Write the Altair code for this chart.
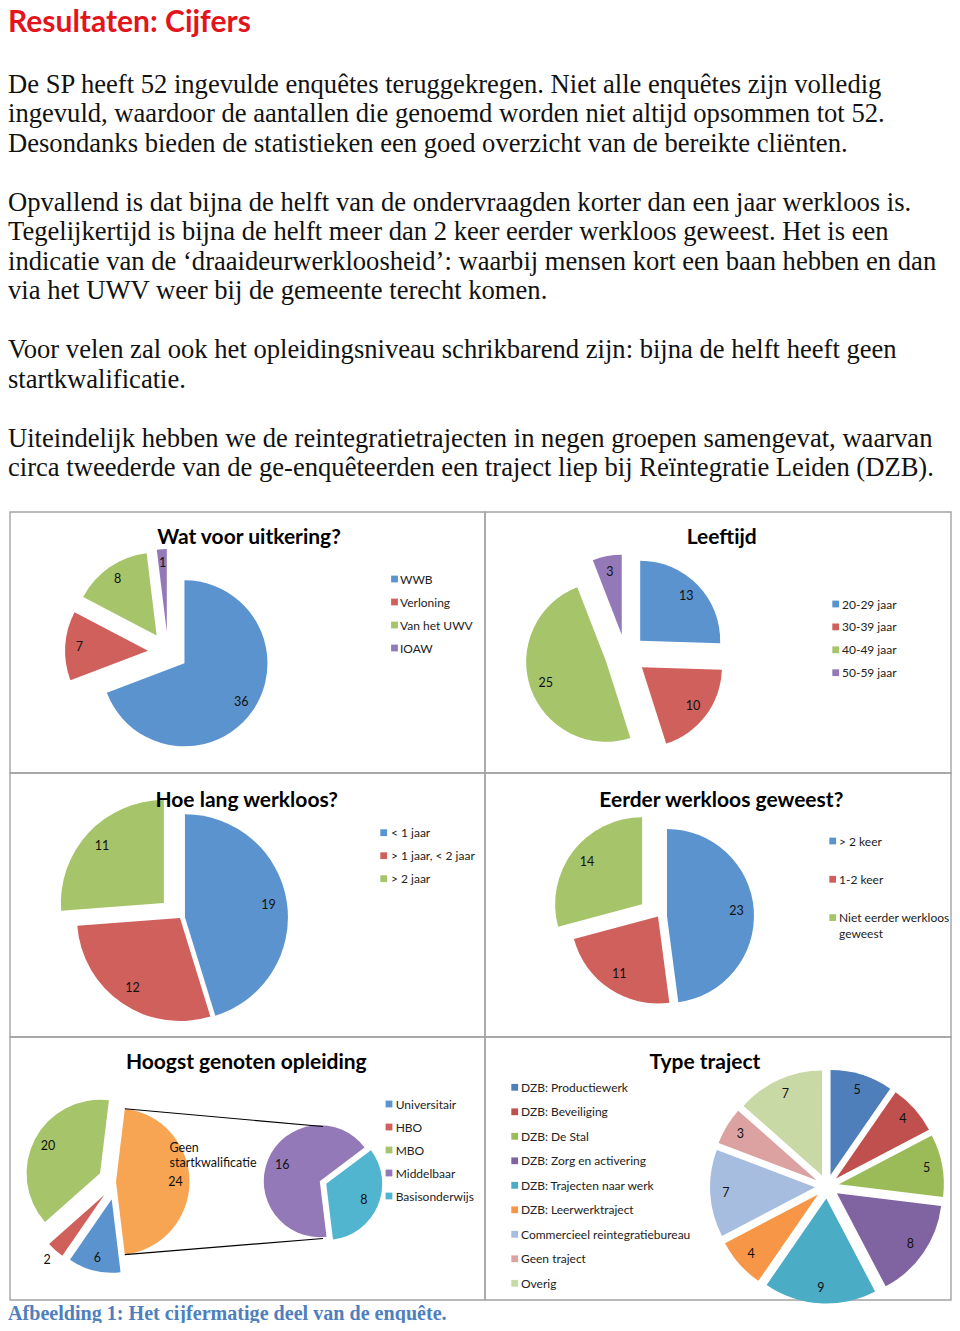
import math
import textwrap
import altair as alt
import pandas as pd

# ---------------- data ----------------
page_title = "Resultaten: Cijfers"
body_lines = [
    "De SP heeft 52 ingevulde enquêtes teruggekregen. Niet alle enquêtes zijn volledig",
    "ingevuld, waardoor de aantallen die genoemd worden niet altijd opsommen tot 52.",
    "Desondanks bieden de statistieken een goed overzicht van de bereikte cliënten.",
    "",
    "Opvallend is dat bijna de helft van de ondervraagden korter dan een jaar werkloos is.",
    "Tegelijkertijd is bijna de helft meer dan 2 keer eerder werkloos geweest. Het is een",
    "indicatie van de ‘draaideurwerkloosheid’: waarbij mensen kort een baan hebben en dan",
    "via het UWV weer bij de gemeente terecht komen.",
    "",
    "Voor velen zal ook het opleidingsniveau schrikbarend zijn: bijna de helft heeft geen",
    "startkwalificatie.",
    "",
    "Uiteindelijk hebben we de reintegratietrajecten in negen groepen samengevat, waarvan",
    "circa tweederde van de ge-enquêteerden een traject liep bij Reïntegratie Leiden (DZB).",
]
caption = "Afbeelding 1: Het cijfermatige deel van de enquête."

uitkering_title = "Wat voor uitkering?"
uitkering_cat = ["WWB", "Verloning", "Van het UWV", "IOAW"]
uitkering_val = [36, 7, 8, 1]

leeftijd_title = "Leeftijd"
leeftijd_cat = ["20-29 jaar", "30-39 jaar", "40-49 jaar", "50-59 jaar"]
leeftijd_val = [13, 10, 25, 3]

werkloos_title = "Hoe lang werkloos?"
werkloos_cat = ["< 1 jaar", "> 1 jaar, < 2 jaar", "> 2 jaar"]
werkloos_val = [19, 12, 11]

eerder_title = "Eerder werkloos geweest?"
eerder_cat = ["> 2 keer", "1-2 keer", "Niet eerder werkloos geweest"]
eerder_val = [23, 11, 14]

opleiding_title = "Hoogst genoten opleiding"
opleiding_cat = ["Universitair", "HBO", "MBO", "Middelbaar", "Basisonderwijs"]
opleiding_val = [6, 2, 20, 16, 8]
opleiding_other = "Geen startkwalificatie"
opleiding_split = 3  # last two categories go to the secondary pie

traject_title = "Type traject"
traject_cat = ["DZB: Productiewerk", "DZB: Beveiliging", "DZB: De Stal",
               "DZB: Zorg en activering", "DZB: Trajecten naar werk",
               "DZB: Leerwerktraject", "Commercieel reintegratiebureau",
               "Geen traject", "Overig"]
traject_val = [5, 4, 5, 8, 9, 4, 7, 3, 7]

# ---------------- styling ----------------
OFF = 8
W, H = 944, 1315
SANS = "Lato"
SERIF = "Liberation Serif"
BLUE, RED, GREEN, PURPLE, CYAN, ORANGE = "#5b93cf", "#cf605c", "#a6c46a", "#9479b8", "#52b5d0", "#f8a553"
BASE = [BLUE, RED, GREEN, PURPLE, CYAN, ORANGE]
TRAJ = ["#4f7fbb", "#c0504d", "#9bbb59", "#8064a2", "#4bacc6", "#f79646",
        "#a7bde0", "#dba2a1", "#c8d9a6"]


def wrap(s, width):
    return textwrap.fill(s, width, break_long_words=False)


def pie_layers(cats, vals, colors, cx, cy, r, explode, lab_f, rot=0.0, name_idx=None):
    n = len(vals)
    ex = explode if isinstance(explode, list) else [explode] * n
    lf = lab_f if isinstance(lab_f, list) else [lab_f] * n
    df = pd.DataFrame({
        "cat": cats, "val": vals, "idx": list(range(n)), "col": colors[:n],
        "ex": ex, "lf": lf, "name": [wrap(c, 12) for c in cats],
    })
    base = (
        alt.Chart(df)
        .transform_joinaggregate(total="sum(val)")
        .transform_window(cum="sum(val)", sort=[alt.SortField("idx")], frame=[None, 0])
        .transform_calculate(t0=f"{rot} + 2*PI*(datum.cum - datum.val)/datum.total")
        .transform_calculate(t1=f"{rot} + 2*PI*datum.cum/datum.total")
        .transform_calculate(mid="(datum.t0 + datum.t1)/2")
        .transform_calculate(px=f"{cx - OFF} + datum.ex*sin(datum.mid)")
        .transform_calculate(py=f"{cy - OFF} - datum.ex*cos(datum.mid)")
        .transform_calculate(lx=f"datum.px + datum.lf*{r}*sin(datum.mid)")
        .transform_calculate(ly=f"datum.py - datum.lf*{r}*cos(datum.mid)")
    )
    arcs = base.mark_arc(radius=r).encode(
        x=alt.X("px:Q", scale=None, axis=None),
        y=alt.Y("py:Q", scale=None, axis=None),
        theta=alt.Theta("t0:Q", scale=None, stack=False),
        theta2="t1:Q",
        color=alt.Color("col:N", scale=None, legend=None),
    )
    labels = base.mark_text(font=SANS, fontSize=12.5, color="#111",
                            align="center", baseline="middle").encode(
        x=alt.X("lx:Q", scale=None, axis=None),
        y=alt.Y("ly:Q", scale=None, axis=None),
        text="val:Q",
    )
    out = [arcs, labels]
    if name_idx is not None:
        out.append(
            base.transform_filter(f"datum.idx == {name_idx}")
            .mark_text(font=SANS, fontSize=12.5, color="#111", align="left",
                       baseline="middle", lineBreak="\n", lineHeight=15,
                       dx=-6, dy=-34)
            .encode(x=alt.X("lx:Q", scale=None, axis=None),
                    y=alt.Y("ly:Q", scale=None, axis=None),
                    text="name:N")
        )
    return out


def legend_layers(labels, colors, sq_x, txt_x, y0, step, width=None):
    n = len(labels)
    df = pd.DataFrame({
        "lab": [wrap(l, width) if width else l for l in labels],
        "col": colors[:n], "i": list(range(n)),
    })
    base = alt.Chart(df).transform_calculate(
        yy=f"{y0 - OFF} + datum.i*{step}"
    ).transform_calculate(yb="datum.yy + 4.5")
    sq = base.mark_square(size=46, opacity=1).encode(
        x=alt.value(sq_x - OFF),
        y=alt.Y("yy:Q", scale=None, axis=None),
        color=alt.Color("col:N", scale=None, legend=None),
    )
    tx = base.mark_text(font=SANS, fontSize=12, color="#222", align="left",
                        baseline="alphabetic", lineBreak="\n", lineHeight=15.6).encode(
        x=alt.value(txt_x - OFF),
        y=alt.Y("yb:Q", scale=None, axis=None),
        text="lab:N",
    )
    return [sq, tx]


layers = []

# panel frames
col_edges = [10, 485, 951]
row_edges = [512, 773, 1037, 1300]
frames = pd.DataFrame([
    {"x": col_edges[c] - OFF, "x2": col_edges[c + 1] - OFF,
     "y": row_edges[rw] - OFF, "y2": row_edges[rw + 1] - OFF}
    for rw in range(3) for c in range(2)
])
layers.append(
    alt.Chart(frames).mark_rect(fillOpacity=0, stroke="#a3a3a3", strokeWidth=1.4).encode(
        x=alt.X("x:Q", scale=None, axis=None), x2="x2:Q",
        y=alt.Y("y:Q", scale=None, axis=None), y2="y2:Q",
    )
)

# 1. Wat voor uitkering?
layers += pie_layers(uitkering_cat, uitkering_val, BASE, 168, 652, 83, 20, 0.83)
layers += legend_layers(uitkering_cat, BASE, 394.5, 400, 579, 23)

# 2. Leeftijd
layers += pie_layers(leeftijd_cat, leeftijd_val, BASE, 625.5, 655, 80, 20.5, 0.8)
layers += legend_layers(leeftijd_cat, BASE, 835.7, 842, 604, 22.9)

# 3. Hoe lang werkloos?
layers += pie_layers(werkloos_cat, werkloos_val, BASE, 180, 918, 103, [5, 0, 22], 0.82)
layers += legend_layers(werkloos_cat, BASE, 383.7, 391, 832.7, 23)

# 4. Eerder werkloos geweest?
layers += pie_layers(eerder_cat, eerder_val, BASE, 658, 916.5, 87, [9, 0, 20], 0.8)
layers += legend_layers(eerder_cat, BASE, 832.7, 839, 841, 38.3, width=20)

# 5. Hoogst genoten opleiding (pie of pie)
prim_cat = opleiding_cat[:opleiding_split] + [opleiding_other]
other_val = sum(opleiding_val[opleiding_split:])
prim_val = opleiding_val[:opleiding_split] + [other_val]
total5 = sum(prim_val)
frac = other_val / total5
rot5 = math.pi / 2 + math.pi * frac
P5C, P5R = (116, 1181.7), 73.5
S5C, S5R = (323, 1182.5), 56
layers += pie_layers(prim_cat, prim_val, [BLUE, RED, GREEN, ORANGE], P5C[0], P5C[1], P5R,
                     [18, 18, 18, 0], [0.82, 1.17, 0.8, 0.81], rot=rot5, name_idx=3)
layers += pie_layers(opleiding_cat[opleiding_split:], opleiding_val[opleiding_split:],
                     [PURPLE, CYAN], S5C[0], S5C[1], S5R, [3.5, 3.5], 0.73, rot=rot5)
a1 = math.pi / 2 - math.pi * frac
a2 = math.pi / 2 + math.pi * frac
conn = pd.DataFrame({
    "x": [P5C[0] + P5R * math.sin(a1) - OFF, P5C[0] + P5R * math.sin(a2) - OFF],
    "y": [P5C[1] - P5R * math.cos(a1) - OFF, P5C[1] - P5R * math.cos(a2) - OFF],
    "x2": [S5C[0] - OFF, S5C[0] - OFF],
    "y2": [S5C[1] - S5R - OFF, S5C[1] + S5R - OFF],
})
layers.append(
    alt.Chart(conn).mark_rule(color="#000", strokeWidth=1.2).encode(
        x=alt.X("x:Q", scale=None, axis=None), x2="x2:Q",
        y=alt.Y("y:Q", scale=None, axis=None), y2="y2:Q",
    )
)
layers += legend_layers(opleiding_cat, [BLUE, RED, GREEN, PURPLE, CYAN], 389, 395.7, 1104, 23)

# 6. Type traject
layers += pie_layers(traject_cat, traject_val, TRAJ, 827, 1186.5, 105, 12, 0.85)
layers += legend_layers(traject_cat, TRAJ, 514.7, 521, 1087.3, 24.5)

# panel titles
titles = pd.DataFrame({
    "t": [uitkering_title, leeftijd_title, werkloos_title, eerder_title, opleiding_title, traject_title],
    "x": [249 - OFF, 721.7 - OFF, 246.7 - OFF, 721.3 - OFF, 246.3 - OFF, 705 - OFF],
    "y": [538 - OFF, 538 - OFF, 800.7 - OFF, 800.7 - OFF, 1063.3 - OFF, 1063.3 - OFF],
})
layers.append(
    alt.Chart(titles).mark_text(font=SANS, fontSize=21, fontWeight="bold", color="#000",
                                align="center", baseline="middle").encode(
        x=alt.X("x:Q", scale=None, axis=None),
        y=alt.Y("y:Q", scale=None, axis=None),
        text="t:N",
    )
)

# page texts
layers.append(
    alt.Chart(pd.DataFrame({"t": [page_title]})).mark_text(
        font=SANS, fontSize=30, fontWeight="bold", color="#e3141b",
        align="left", baseline="alphabetic").encode(
        x=alt.value(0), y=alt.value(32 - OFF), text="t:N")
)
body = pd.DataFrame({"t": body_lines, "i": list(range(len(body_lines)))})
layers.append(
    alt.Chart(body).transform_filter("length(datum.t) > 0")
    .transform_calculate(y=f"{92.7 - OFF} + datum.i*29.5")
    .mark_text(font=SERIF, fontSize=26.6, color="#111", align="left", baseline="alphabetic")
    .encode(x=alt.value(0), y=alt.Y("y:Q", scale=None, axis=None), text="t:N")
)
layers.append(
    alt.Chart(pd.DataFrame({"t": [caption]})).mark_text(
        font=SERIF, fontSize=20.1, fontWeight="bold", color="#4f7fbd",
        align="left", baseline="alphabetic").encode(
        x=alt.value(0), y=alt.value(1320 - OFF), text="t:N")
)

chart = alt.layer(*layers).properties(
    width=W, height=H, padding=0,
    autosize=alt.AutoSizeParams(type="none"),
).configure_view(stroke=None)

chart.save("out.html", embed_options={"renderer": "svg", "actions": False})
